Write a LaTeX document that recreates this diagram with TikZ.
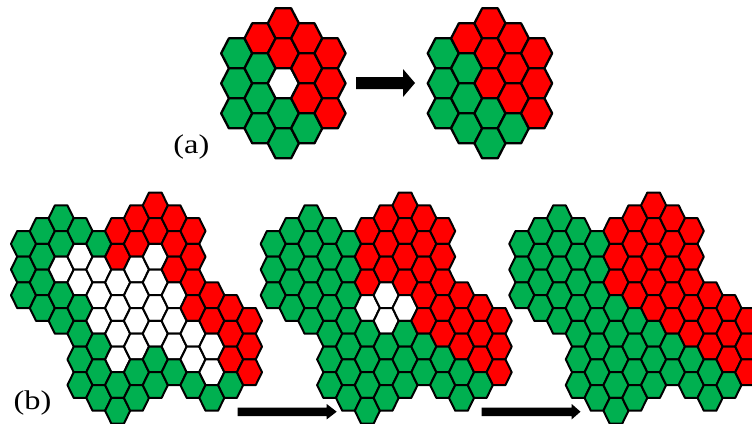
\documentclass[tikz,border=0pt]{standalone}
\usepackage{fontspec}
\setmainfont{Liberation Serif}
\definecolor{cg}{RGB}{0,176,80}
\definecolor{cr}{RGB}{255,0,0}
\definecolor{cw}{RGB}{255,255,255}
\tikzset{
  acell/.style={draw=black, line width=2.3pt, line join=round},
  bcell/.style={draw=black, line width=2pt, line join=round},
  lbl/.style={font=\fontsize{27}{32}\selectfont, xscale=1.2, inner sep=0pt},
  blockarrow/.style={fill=black}
}
\newcommand{\AHex}[3]{\path[acell,fill=#3] (#1,#2) +(-15.55,0) -- +(-7.78,-15) -- +(7.78,-15) -- +(15.55,0) -- +(7.78,15) -- +(-7.78,15) -- cycle;}
\newcommand{\BHex}[3]{\path[bcell,fill=#3] (#1,#2) +(-12.55,0) -- +(-6.28,-12.83) -- +(6.28,-12.83) -- +(12.55,0) -- +(6.28,12.83) -- +(-6.28,12.83) -- cycle;}
\newcommand{\DrawA}[2]{%
  \foreach \c/\r/\col in #2 {
    \pgfmathsetmacro\xx{#1+23.33*\c}
    \pgfmathsetmacro\yy{23.3+30*\r+15*abs(\c-2)}
    \AHex{\xx}{\yy}{\col}
  }}
\newcommand{\DrawB}[2]{%
  \foreach \k/\r/\col in #2 {
    \pgfmathsetmacro\xx{#1+18.83*\k}
    \pgfmathsetmacro\yy{218.2+25.67*\r-12.83*mod(\k,2)}
    \BHex{\xx}{\yy}{\col}
  }}
\def\cellsAL{0/0/cg,0/1/cg,0/2/cg,1/0/cr,1/1/cg,1/2/cg,1/3/cg,2/0/cr,2/1/cr,2/2/cw,2/3/cg,2/4/cg,3/0/cr,3/1/cr,3/2/cr,3/3/cg,4/0/cr,4/1/cr,4/2/cr}
\def\cellsAR{0/0/cg,0/1/cg,0/2/cg,1/0/cr,1/1/cg,1/2/cg,1/3/cg,2/0/cr,2/1/cr,2/2/cr,2/3/cg,2/4/cg,3/0/cr,3/1/cr,3/2/cr,3/3/cg,4/0/cr,4/1/cr,4/2/cr}
\def\cellsBL{0/1/cg,0/2/cg,0/3/cg,
1/1/cg,1/2/cg,1/3/cg,1/4/cg,
2/0/cg,2/1/cg,2/2/cw,2/3/cg,2/4/cg,
3/1/cg,3/2/cw,3/3/cw,3/4/cg,3/5/cg,3/6/cg,3/7/cg,
4/1/cg,4/2/cw,4/3/cw,4/4/cw,4/5/cg,4/6/cg,4/7/cg,
5/1/cr,5/2/cr,5/3/cw,5/4/cw,5/5/cw,5/6/cw,5/7/cg,5/8/cg,
6/0/cr,6/1/cr,6/2/cw,6/3/cw,6/4/cw,6/5/cw,6/6/cg,6/7/cg,
7/0/cr,7/1/cr,7/2/cw,7/3/cw,7/4/cw,7/5/cw,7/6/cg,7/7/cg,
8/0/cr,8/1/cr,8/2/cr,8/3/cw,8/4/cw,8/5/cw,8/6/cg,
9/1/cr,9/2/cr,9/3/cr,9/4/cr,9/5/cw,9/6/cw,9/7/cg,
10/3/cr,10/4/cr,10/5/cw,10/6/cw,10/7/cg,
11/4/cr,11/5/cr,11/6/cr,11/7/cg,
12/4/cr,12/5/cr,12/6/cr}
\def\cellsBM{0/1/cg,0/2/cg,0/3/cg,
1/1/cg,1/2/cg,1/3/cg,1/4/cg,
2/0/cg,2/1/cg,2/2/cg,2/3/cg,2/4/cg,
3/1/cg,3/2/cg,3/3/cg,3/4/cg,3/5/cg,3/6/cg,3/7/cg,
4/1/cg,4/2/cg,4/3/cg,4/4/cg,4/5/cg,4/6/cg,4/7/cg,
5/1/cr,5/2/cr,5/3/cr,5/4/cw,5/5/cg,5/6/cg,5/7/cg,5/8/cg,
6/0/cr,6/1/cr,6/2/cr,6/3/cw,6/4/cw,6/5/cg,6/6/cg,6/7/cg,
7/0/cr,7/1/cr,7/2/cr,7/3/cr,7/4/cw,7/5/cg,7/6/cg,7/7/cg,
8/0/cr,8/1/cr,8/2/cr,8/3/cr,8/4/cr,8/5/cg,8/6/cg,
9/1/cr,9/2/cr,9/3/cr,9/4/cr,9/5/cr,9/6/cg,9/7/cg,
10/3/cr,10/4/cr,10/5/cr,10/6/cg,10/7/cg,
11/4/cr,11/5/cr,11/6/cr,11/7/cg,
12/4/cr,12/5/cr,12/6/cr}
\def\cellsBR{0/1/cg,0/2/cg,0/3/cg,
1/1/cg,1/2/cg,1/3/cg,1/4/cg,
2/0/cg,2/1/cg,2/2/cg,2/3/cg,2/4/cg,
3/1/cg,3/2/cg,3/3/cg,3/4/cg,3/5/cg,3/6/cg,3/7/cg,
4/1/cg,4/2/cg,4/3/cg,4/4/cg,4/5/cg,4/6/cg,4/7/cg,
5/1/cr,5/2/cr,5/3/cr,5/4/cg,5/5/cg,5/6/cg,5/7/cg,5/8/cg,
6/0/cr,6/1/cr,6/2/cr,6/3/cr,6/4/cg,6/5/cg,6/6/cg,6/7/cg,
7/0/cr,7/1/cr,7/2/cr,7/3/cr,7/4/cr,7/5/cg,7/6/cg,7/7/cg,
8/0/cr,8/1/cr,8/2/cr,8/3/cr,8/4/cr,8/5/cg,8/6/cg,
9/1/cr,9/2/cr,9/3/cr,9/4/cr,9/5/cr,9/6/cg,9/7/cg,
10/3/cr,10/4/cr,10/5/cr,10/6/cg,10/7/cg,
11/4/cr,11/5/cr,11/6/cr,11/7/cg,
12/4/cr,12/5/cr,12/6/cr}
\begin{document}
\begin{tikzpicture}[x=1pt,y=-1pt]
\useasboundingbox (0,0) rectangle (752,423);
\fill[white] (0,0) rectangle (752,423);
% (a)
\DrawA{236.7}{\cellsAL}
\DrawA{443.3}{\cellsAR}
\fill[blockarrow] (356,77) -- (403,77) -- (403,69) -- (415,83) -- (403,97) -- (403,89) -- (356,89) -- cycle;
\node[lbl] (la) at (191.4,147.5) {(a)};
% (b)
\DrawB{23.5}{\cellsBL}
\DrawB{273.2}{\cellsBM}
\DrawB{521.8}{\cellsBR}
\fill[blockarrow] (237.7,407.5) -- (326.7,407.5) -- (326.7,404) -- (336.7,411.7) -- (326.7,419.4) -- (326.7,416) -- (237.7,416) -- cycle;
\fill[blockarrow] (481.7,407.5) -- (571.7,407.5) -- (571.7,404) -- (580.5,411.7) -- (571.7,419.4) -- (571.7,416) -- (481.7,416) -- cycle;
\node[lbl] (lb) at (32.5,403.5) {(b)};
\end{tikzpicture}
\end{document}
